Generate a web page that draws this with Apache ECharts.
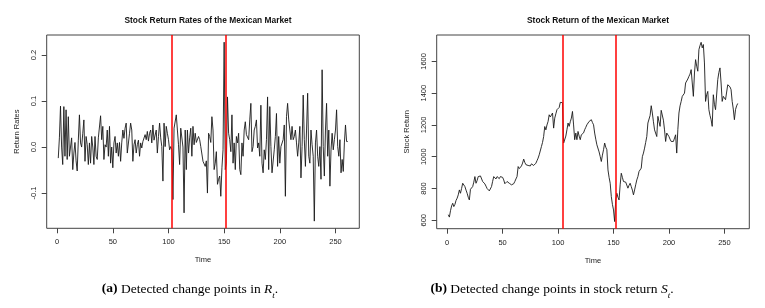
<!DOCTYPE html>
<html><head><meta charset="utf-8">
<script src="https://cdn.jsdelivr.net/npm/echarts@6/dist/echarts.min.js"></script>
<style>html,body{margin:0;padding:0;background:#fff}#c{width:765px;height:308px}</style>
</head><body><div id="c"></div>
<script>
// ---- data ----
const xTicks = [0, 50, 100, 150, 200, 250];
const rTicks = [-0.1, 0.0, 0.1, 0.2];
const sTicks = [600, 800, 1000, 1200, 1400, 1600];
const changePointsR = [103, 151];
const changePointsS = [104, 152];

const returnRates = [
 -0.024, 0.02, 0.089, 0.0, -0.038, 0.088, -0.02, 0.081, -0.027, 0.066,
 -0.02, 0.0, 0.02, -0.049, -0.013, 0.01, -0.03, -0.052, 0.015, 0.07,
 0.009, 0.0, 0.03, 0.059, -0.031, 0.023, 0.005, -0.038, 0.009, -0.035,
 0.023, 0.0, -0.038, 0.023, -0.02, -0.027, 0.02, 0.02, 0.068, 0.016,
 0.045, -0.027, 0.005, 0.0, 0.037, -0.02, 0.045, -0.035, 0.0, -0.045,
 0.009, 0.023, -0.013, 0.009, -0.02, 0.01, -0.031, 0.009, 0.037, 0.019,
 0.041, 0.052, -0.013, -0.016, 0.03, 0.052, 0.037, -0.031, 0.005, 0.016,
 -0.013, 0.005, 0.015, -0.02, 0.009, -0.002, 0.012, 0.016, 0.027, 0.016,
 0.034, 0.013, 0.03, 0.037, 0.009, 0.048, 0.015, 0.016, 0.037, -0.013,
 0.023, 0.052, 0.02, 0.001, -0.074, 0.052, 0.001, 0.045, 0.03, 0.016,
 -0.006, 0.001, -0.006, -0.114, 0.041, 0.037, 0.07, 0.037, 0.005, -0.038,
 0.041, 0.041, 0.0, -0.143, 0.037, -0.049, 0.037, -0.013, 0.02, 0.041,
 -0.02, 0.045, 0.005, 0.03, 0.01, 0.009, 0.023, 0.016, 0.001, 0.005,
 -0.031, -0.035, -0.042, -0.03, -0.1, 0.03, 0.023, 0.01, 0.066, 0.037,
 -0.049, -0.035, -0.01, -0.081, -0.07, -0.063, -0.107, -0.045, -0.006, 0.228,
 -0.049, -0.035, 0.109, 0.03, 0.016, -0.01, 0.07, -0.035, 0.009, -0.049,
 0.023, 0.009, 0.03, -0.049, -0.06, 0.009, -0.02, 0.037, 0.055, 0.027,
 0.023, 0.016, 0.059, 0.095, -0.01, 0.001, 0.037, 0.045, 0.059, -0.002,
 0.009, -0.02, 0.091, -0.035, -0.056, -0.006, -0.027, 0.016, 0.109, -0.049,
 0.088, 0.001, -0.056, -0.056, -0.006, 0.023, 0.073, -0.042, 0.023, -0.035,
 0.001, 0.005, 0.016, 0.048, -0.107, 0.066, 0.095, 0.059, 0.037, 0.016,
 0.045, 0.016, 0.023, 0.037, 0.009, -0.02, 0.009, 0.045, -0.067, 0.001,
 0.113, 0.016, -0.042, 0.037, 0.117, -0.02, -0.035, 0.037, 0.005, -0.02,
 -0.161, 0.009, 0.037, -0.02, -0.042, 0.001, -0.07, 0.168, 0.001, -0.063,
 0.037, 0.095, -0.02, 0.037, -0.085, -0.006, 0.03, -0.006, 0.016, 0.037,
 0.081, 0.001, -0.02, 0.016, -0.056, -0.027, -0.053, 0.009, 0.048, 0.012,
 0.012
];

const stockReturn = [
 635, 620, 660, 690, 707, 686, 700, 725, 739, 760,
 791, 770, 800, 833, 840, 812, 790, 770, 745, 728,
 795, 805, 812, 840, 875, 833, 850, 875, 865, 879,
 870, 844, 850, 829, 815, 800, 795, 785, 790, 812,
 845, 875, 865, 860, 875, 870, 862, 875, 886, 870,
 854, 830, 823, 844, 850, 833, 840, 823, 812, 830,
 844, 860, 875, 938, 925, 917, 942, 960, 985, 964,
 950, 938, 945, 949, 942, 955, 950, 945, 942, 959,
 975, 991, 1012, 1023, 1064, 1090, 1127, 1190, 1169, 1200,
 1222, 1264, 1250, 1260, 1275, 1180, 1243, 1270, 1296, 1285,
 1310, 1342, 1334, 1340, 1086, 1076, 1130, 1170, 1212, 1191,
 1220, 1243, 1285, 1200, 1107, 1149, 1107, 1159, 1130, 1107,
 1138, 1128, 1150, 1170, 1185, 1201, 1212, 1222, 1228, 1233,
 1215, 1201, 1149, 1110, 1075, 1065, 1030, 1001, 970, 1010,
 1044, 1086, 1060, 1044, 917, 870, 833, 749, 700, 665,
 592, 728, 770, 745, 728, 823, 896, 870, 844, 833,
 840, 844, 802, 820, 833, 812, 790, 760, 791, 823,
 854, 875, 907, 918, 928, 1000, 1023, 1054, 1090, 1127,
 1212, 1222, 1260, 1321, 1275, 1220, 1169, 1180, 1127, 1254,
 1220, 1191, 1292, 1285, 1230, 1169, 1096, 1149, 1140, 1127,
 1110, 1096, 1100, 1096, 1086, 1138, 1023, 1170, 1275, 1320,
 1348, 1380, 1390, 1400, 1464, 1475, 1489, 1506, 1520, 1548,
 1464, 1380, 1527, 1611, 1570, 1538, 1674, 1700, 1720, 1685,
 1706, 1590, 1348, 1390, 1411, 1296, 1260, 1233, 1191, 1390,
 1330, 1296, 1306, 1485, 1530, 1559, 1464, 1348, 1380, 1370,
 1359, 1348, 1453, 1464, 1440, 1422, 1348, 1300, 1233, 1296,
 1320, 1335
];

// ---- chart ----
const chart = echarts.init(document.getElementById('c'), null, {renderer: 'canvas'});
const axisColor = '#444';
const sans = 'Liberation Sans, Arial, sans-serif';
const serif = 'Liberation Serif, Times New Roman, serif';

function xAxisCfg(gridIndex, min, max) {
  return {
    type: 'value', gridIndex, min, max,
    name: 'Time', nameLocation: 'middle', nameGap: 28,
    nameTextStyle: {fontFamily: sans, fontSize: 7.5, color: '#222'},
    axisLine: {show: false, onZero: false},
    axisTick: {show: true, length: 5, lineStyle: {color: axisColor}, customValues: xTicks},
    axisLabel: {fontFamily: sans, fontSize: 7.5, color: '#222', margin: 10, customValues: xTicks},
    splitLine: {show: false}
  };
}
function yAxisCfg(gridIndex, min, max, ticks, name, fmt) {
  return {
    type: 'value', gridIndex, min, max,
    name, nameLocation: 'middle', nameGap: 26,
    nameTextStyle: {fontFamily: sans, fontSize: 7.5, color: '#222'},
    axisLine: {show: false, onZero: false},
    axisTick: {show: true, length: 5, lineStyle: {color: axisColor}, customValues: ticks},
    axisLabel: {fontFamily: sans, fontSize: 7.5, color: '#222', margin: 9, rotate: 90,
      customValues: ticks, formatter: fmt},
    splitLine: {show: false}
  };
}

function caption(x, y, text) {
  return {type: 'text', x, y, silent: true,
    style: {
      text, align: 'center', verticalAlign: 'middle',
      font: '13.5px ' + serif, fill: '#000',
      rich: {
        b: {fontFamily: serif, fontSize: 13.5, fontWeight: 'bold', lineHeight: 16},
        i: {fontFamily: serif, fontSize: 13.5, fontStyle: 'italic', lineHeight: 16},
        s: {fontFamily: serif, fontSize: 9, fontStyle: 'italic', lineHeight: 9, verticalAlign: 'bottom', padding: [0, 0, -3, 0]}
      }
    }};
}

const option = {
  animation: false,
  backgroundColor: '#fff',
  title: [
    {text: 'Stock Return Rates of the Mexican Market', left: 203, top: 12, textAlign: 'center',
     textStyle: {fontFamily: sans, fontSize: 8.4, fontWeight: 'bold', color: '#111'}},
    {text: 'Stock Return of the Mexican Market', left: 593, top: 12, textAlign: 'center',
     textStyle: {fontFamily: sans, fontSize: 8.4, fontWeight: 'bold', color: '#111'}}
  ],
  grid: [
    {left: 46.7, top: 35, width: 312.6, height: 193.3, show: true, borderColor: axisColor, borderWidth: 1, backgroundColor: 'transparent'},
    {left: 436.7, top: 35, width: 312.6, height: 193.7, show: true, borderColor: axisColor, borderWidth: 1, backgroundColor: 'transparent'}
  ],
  xAxis: [xAxisCfg(0, -9.4, 271.4), xAxisCfg(1, -9.44, 272.44)],
  yAxis: [
    yAxisCfg(0, -0.1766, 0.2436, rTicks, 'Return Rates', v => v.toFixed(1)),
    yAxisCfg(1, 547, 1766, sTicks, 'Stock Return', v => String(v))
  ],
  series: [
    {type: 'line', xAxisIndex: 0, yAxisIndex: 0, symbol: 'none',
     lineStyle: {color: '#1a1a1a', width: 0.9},
     data: returnRates.map((v, i) => [i + 1, v]),
     markLine: {silent: true, symbol: 'none', label: {show: false},
       lineStyle: {color: '#ff0000', width: 1.5, type: 'solid'},
       data: changePointsR.map(c => ({xAxis: c}))}},
    {type: 'line', xAxisIndex: 1, yAxisIndex: 1, symbol: 'none',
     lineStyle: {color: '#1a1a1a', width: 0.9},
     data: stockReturn.map((v, i) => [i + 1, v]),
     markLine: {silent: true, symbol: 'none', label: {show: false},
       lineStyle: {color: '#ff0000', width: 1.5, type: 'solid'},
       data: changePointsS.map(c => ({xAxis: c}))}}
  ],
  graphic: [
    caption(190, 289, '{b|(a)} Detected change points in {i|R}{s|t}.'),
    caption(552, 289, '{b|(b)} Detected change points in stock return {i|S}{s|t}.')
  ]
};
chart.setOption(option);
</script>
</body></html>
